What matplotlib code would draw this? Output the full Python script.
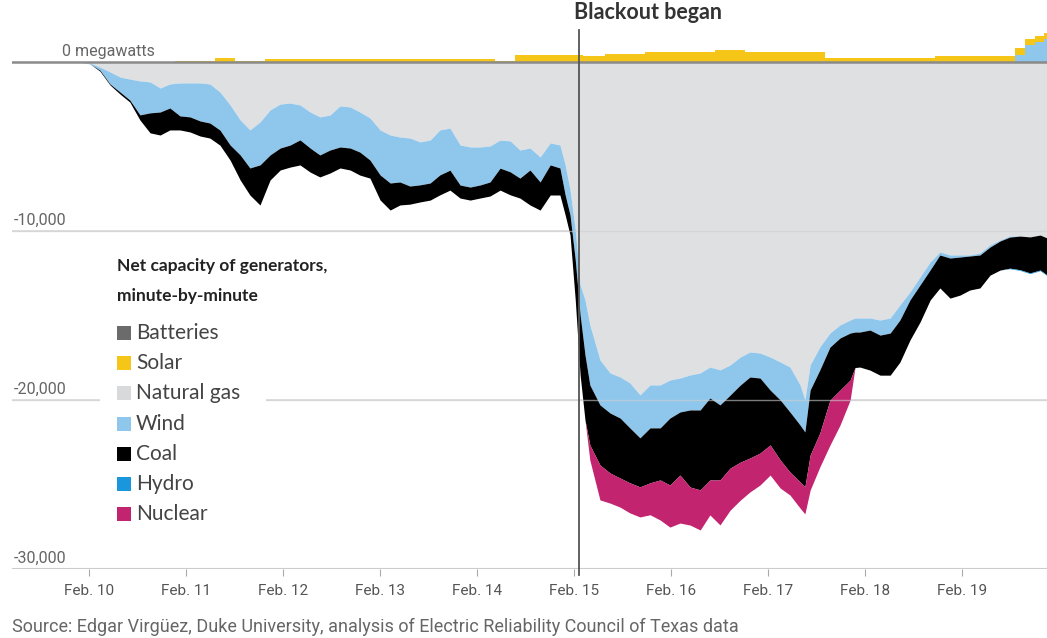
import numpy as np
import matplotlib
matplotlib.use('Agg')
import matplotlib.pyplot as plt
from matplotlib.patches import Rectangle

# hours after Feb. 10 00:00
hours = [-2.2, 0.25, 2.7, 5.2, 7.7, 10.1, 12.6, 15.1, 17.6, 20.0, 22.5, 25.0, 27.5, 29.9,
         32.4, 34.9, 37.4, 39.8, 42.3, 44.8, 47.3, 49.7, 52.2, 54.7, 57.1, 59.6, 62.1, 64.6,
         67.0, 69.5, 72.0, 74.5, 76.9, 79.4, 81.9, 84.4, 86.8, 89.3, 91.8, 94.3, 96.7, 99.2,
         101.7, 104.2, 106.6, 109.1, 111.6, 114.1, 116.5, 117.8, 119.0, 120.3, 121.5, 122.7,
         123.9, 126.4, 128.9, 131.4, 133.8, 136.3, 138.8, 141.3, 143.7, 146.2, 148.7, 151.2,
         153.6, 156.1, 158.6, 161.1, 163.5, 166.0, 168.5, 171.0, 173.4, 175.9, 177.1, 178.4,
         180.8, 183.3, 185.8, 188.3, 189.5, 190.7, 193.2, 195.7, 198.2, 200.6, 203.1, 205.6,
         208.1, 210.5, 213.0, 215.5, 217.9, 220.4, 222.9, 225.4, 227.8, 230.3, 232.8, 235.3, 237.0]

# net capacity by fuel, megawatts
gas = [0, -60, -300, -590, -890, -1010, -1120, -1180, -1540, -1300, -1240, -1240, -1240, -1300,
       -1780, -2540, -3430, -4020, -3550, -2840, -2490, -2430, -2540, -2960, -3250, -3140, -2600, -2660,
       -2960, -3310, -4020, -4320, -4440, -4500, -4730, -4620, -4020, -3910, -4910, -5030, -5030, -4970,
       -4620, -4670, -5210, -5090, -5620, -4790, -4910, -6090, -7570, -9940, -13190, -14080,
       -15560, -17630, -18400, -18640, -18990, -19700, -19110, -19110, -18820, -18700, -18520, -18400,
       -18050, -18220, -17930, -17460, -17160, -17220, -17460, -17750, -18050, -19110, -20000, -17930,
       -16860, -16040, -15560, -15270, -15150, -15150, -15150, -15270, -15150, -14380, -13610, -12720,
       -11830, -11240, -11420, -11420, -11420, -11300, -10830, -10530, -10300, -10300, -10350, -10240, -10410]
wind = [0, -60, -180, -710, -890, -1240, -2010, -1830, -1420, -1420, -1950, -2010, -2250, -2310,
        -2250, -2370, -2070, -2250, -2540, -2660, -2600, -2490, -2070, -2130, -2250, -2070, -2430, -2430,
        -2370, -2490, -2660, -2840, -2660, -2840, -2540, -2540, -2660, -2490, -2370, -2370, -2250, -2130,
        -1660, -1830, -1660, -1300, -1480, -1300, -1360, -1780, -1480, -1780, -1780, -3250,
        -3550, -2660, -2370, -2430, -2660, -2540, -2540, -2540, -2250, -2010, -2070, -2190,
        -1830, -2070, -1780, -1660, -1480, -1480, -1950, -2250, -2660, -2370, -1890, -1480,
        -1360, -830, -770, -770, -830, -830, -710, -890, -890, -890, -470, -470,
        -470, -180, -180, -120, -60, -120, -120, -60, -60, 400, 1000, 1200, 1350]
coal = [0, 0, -60, -60, -120, -120, -300, -1180, -1360, -1300, -830, -890, -890, -890,
        -890, -890, -1480, -1600, -2370, -1480, -1300, -1300, -1480, -1420, -1300, -1360, -1240, -1300,
        -1360, -1070, -1480, -1600, -1360, -1070, -1010, -1010, -1180, -1180, -770, -770, -770, -830,
        -1300, -1360, -1180, -2070, -1660, -1780, -1600, -1180, -1180, -2370, -3550, -3850,
        -3550, -3550, -3550, -3550, -3250, -2900, -3250, -3080, -3960, -3730, -4560, -4730,
        -4850, -4440, -4320, -4560, -4790, -4440, -3250, -3550, -3550, -3370, -3250, -3850,
        -3730, -3140, -3080, -2780, -2100, -2070, -2370, -2370, -2490, -2490, -2370, -2190,
        -1780, -1950, -2370, -2250, -2010, -1950, -1660, -1720, -1840, -1990, -2130, -2070, -2190]
hydro = [0, 0, 0, 0, 0, 0, 0, 0, 0, 0, 0, 0, 0, 0,
         0, 0, 0, 0, 0, 0, 0, 0, 0, 0, 0, 0, 0, 0,
         0, 0, 0, 0, 0, 0, 0, 0, 0, 0, 0, 0, 0, 0,
         0, 0, 0, 0, 0, 0, 0, 0, 0, 0, 0, 0,
         0, 0, 0, 0, 0, 0, 0, 0, 0, 0, 0, 0,
         0, 0, 0, 0, 0, 0, 0, 0, 0, 0, 0, 0,
         0, 0, 0, 0, 0, 0, 0, 0, 0, 0, 0, 0,
         0, 0, 0, 0, 0, 0, 0, 0, -30, -40, -40, -40, -40]
nuclear = [0, 0, 0, 0, 0, 0, 0, 0, 0, 0, 0, 0, 0, 0,
           0, 0, 0, 0, 0, 0, 0, 0, 0, 0, 0, 0, 0, 0,
           0, 0, 0, 0, 0, 0, 0, 0, 0, 0, 0, 0, 0, 0,
           0, 0, 0, 0, 0, 0, 0, 0, 0, 0, 0, 0,
           -890, -2070, -1780, -1720, -1780, -1780, -1890, -2370, -2490, -2840, -2250, -2370,
           -2070, -2660, -2490, -2250, -2010, -1890, -1780, -1660, -1360, -1540, -1600, -2070,
           -2010, -2660, -2070, -1180, 0, 0, 0, 0, 0, 0, 0, 0,
           0, 0, 0, 0, 0, 0, 0, 0, 0, 0, 0, 0, 0]
solar = [0, 0, 0, 0, 0, 0, 0, 0, 0, 0, 60, 60, 60, 60,
         250, 250, 60, 60, 60, 150, 150, 150, 150, 150, 150, 150, 150, 150,
         150, 150, 150, 150, 150, 150, 150, 150, 150, 150, 150, 150, 150, 150,
         50, 50, 400, 400, 400, 400, 400, 400, 400, 400, 400, 350,
         350, 350, 470, 470, 470, 470, 590, 590, 590, 590, 590, 590,
         590, 700, 700, 700, 590, 590, 590, 590, 590, 590, 590, 590,
         590, 240, 240, 240, 240, 240, 240, 240, 240, 240, 240, 240,
         240, 370, 370, 370, 370, 370, 370, 370, 370, 410, 350, 350, 350]

fuels = ['Batteries', 'Solar', 'Natural gas', 'Wind', 'Coal', 'Hydro', 'Nuclear']
colors = {'Batteries': '#6b6b6b', 'Solar': '#f5c518', 'Natural gas': '#dfe0e2',
          'Wind': '#8ec6ec', 'Coal': '#000000', 'Hydro': '#1a96dc', 'Nuclear': '#c2246f'}

days = ['Feb. 10', 'Feb. 11', 'Feb. 12', 'Feb. 13', 'Feb. 14',
        'Feb. 15', 'Feb. 16', 'Feb. 17', 'Feb. 18', 'Feb. 19']
blackout_hour = 1.2 + 5 * 24

t = np.array(hours)
wind_a = np.array(wind, dtype=float)
wind_neg = np.minimum(wind_a, 0)
wind_pos = np.maximum(wind_a, 0)

fig = plt.figure(figsize=(10.47, 6.38), dpi=100)
ax = fig.add_axes([12 / 1047, 69 / 638, 1035 / 1047, 569 / 638])

# gridlines under the data
for v in [-10000, -20000]:
    ax.axhline(v, color='#d9d9d9', lw=1.2, zorder=1)
ax.axhline(-30000, color='#cccccc', lw=1.5, zorder=1)

# negative stack (outages)
neg_layers = [('Natural gas', np.array(gas)), ('Wind', wind_neg), ('Coal', np.array(coal)),
              ('Hydro', np.array(hydro)), ('Nuclear', np.array(nuclear))]
top = np.zeros_like(t)
for name, vals in neg_layers:
    bottom = top + vals
    ax.fill_between(t, top, bottom, color=colors[name], lw=0, zorder=2)
    top = bottom

# positive stack
base = np.zeros_like(t)
for name, vals in [('Wind', wind_pos), ('Solar', np.array(solar))]:
    ax.fill_between(t, base, base + vals, step='mid', color=colors[name], lw=0, zorder=2)
    base = base + vals

# faint grid on top of the gas area
for v in [-10000, -20000]:
    ax.axhline(v, color='#cfd0d2', lw=1.0, zorder=2.5, alpha=0.6)

ax.set_xlim(-19.05, 237.0)
ax.set_ylim(-30000, 3669)
ax.axhline(0, color='#8a8a8a', lw=1.8, zorder=4)

ax.axvline(blackout_hour, ymin=-0.01, ymax=(3669 - 1800 + 30000) / 33669, color='#555555',
           lw=1.3, zorder=5, clip_on=False)
ax.text(blackout_hour - 1.2, 2300, 'Blackout began', fontsize=15.5, fontweight='bold',
        color='#333333', ha='left', va='bottom', family=['Lato', 'DejaVu Sans'])

for spine in ax.spines.values():
    spine.set_visible(False)
ax.set_yticks([])
ax.set_xticks([i * 24 for i in range(len(days))])
ax.set_xticklabels(days, fontsize=11, color='#555555', family=['Roboto', 'DejaVu Sans'])
ax.tick_params(axis='x', length=5, color='#aaaaaa', pad=6)

ylab = {0: '0 megawatts', -10000: '-10,000', -20000: '-20,000', -30000: '-30,000'}
for v, s in ylab.items():
    xpos = 0.048 if v == 0 else 0.002
    ax.text(xpos, v + 180, s, transform=ax.get_yaxis_transform(), fontsize=11.5,
            color='#666666', ha='left', va='bottom', family=['Roboto', 'DejaVu Sans'], zorder=6)

# legend block
ax.add_patch(Rectangle((0.085, -28000), 0.16, 10000, transform=ax.get_yaxis_transform(),
                       facecolor='white', edgecolor='none', zorder=5))
for j, line in enumerate(['Net capacity of generators,', 'minute-by-minute']):
    fig.text(117 / 1047, 1 - (266 + j * 30) / 638, line, fontsize=12.5, fontweight='bold',
             color='#222222', va='center', ha='left', family=['Lato', 'DejaVu Sans'])
for i, name in enumerate(fuels):
    yc = 1 - (333 + i * 30.2) / 638
    fig.patches.append(Rectangle((117 / 1047, yc - 7 / 638), 14 / 1047, 14 / 638,
                                 transform=fig.transFigure, facecolor=colors[name] if name != 'Natural gas' else '#d8d9db',
                                 edgecolor='none'))
    fig.text(136 / 1047, yc, name, fontsize=15, color='#444444', va='center', ha='left',
             family=['Lato', 'DejaVu Sans'])

fig.text(12 / 1047, 1 - 627 / 638, 'Source: Edgar Virgüez, Duke University, analysis of Electric Reliability Council of Texas data',
         fontsize=13, color='#666666', va='center', ha='left', family=['Roboto', 'DejaVu Sans'])

fig.savefig('out.png', dpi=100, facecolor='white')
